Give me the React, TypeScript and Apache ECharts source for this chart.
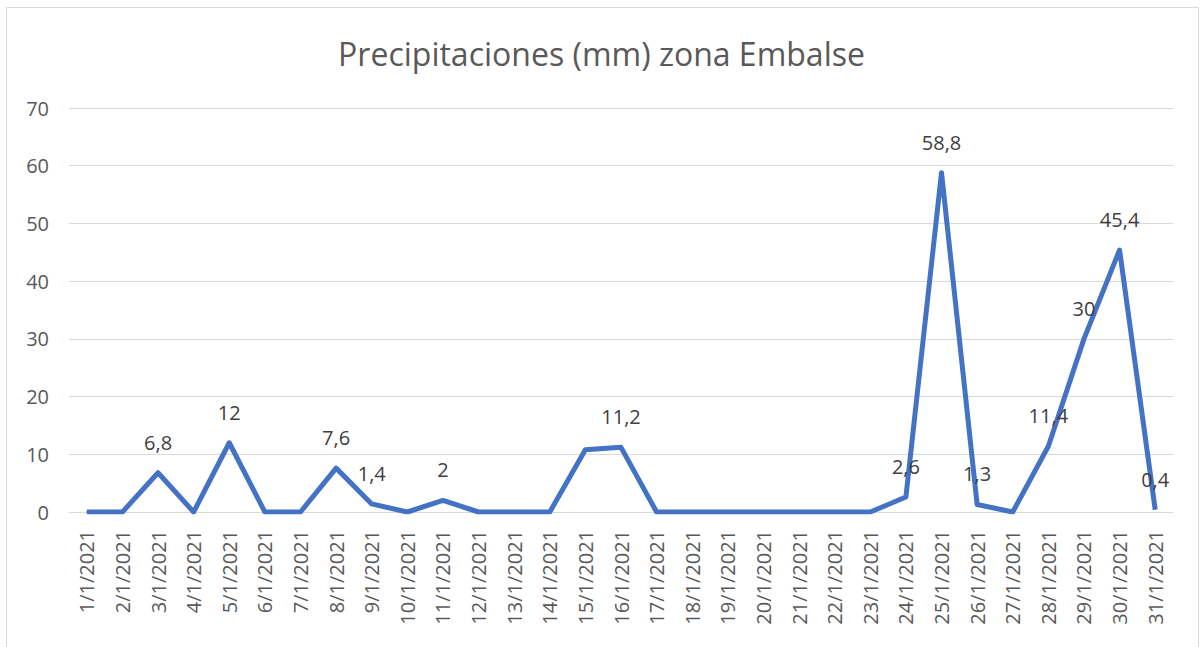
import React, { useEffect, useRef } from "react";
import * as echarts from "echarts";

const categories = [
  "1/1/2021", "2/1/2021", "3/1/2021", "4/1/2021", "5/1/2021", "6/1/2021", "7/1/2021", "8/1/2021",
  "9/1/2021", "10/1/2021", "11/1/2021", "12/1/2021", "13/1/2021", "14/1/2021", "15/1/2021", "16/1/2021",
  "17/1/2021", "18/1/2021", "19/1/2021", "20/1/2021", "21/1/2021", "22/1/2021", "23/1/2021", "24/1/2021",
  "25/1/2021", "26/1/2021", "27/1/2021", "28/1/2021", "29/1/2021", "30/1/2021", "31/1/2021",
];
const values = [
  0, 0, 6.8, 0, 12, 0, 0, 7.6, 1.4, 0, 2, 0, 0, 0, 10.8, 11.2,
  0, 0, 0, 0, 0, 0, 0, 2.6, 58.8, 1.3, 0, 11.4, 30, 45.4, 0.4,
];
// which points carry a data label
const labelled = [
  false, false, true, false, true, false, false, true, true, false, true, false, false, false, false, true,
  false, false, false, false, false, false, false, true, true, true, false, true, true, true, true,
];
const title = "Precipitaciones (mm) zona Embalse";

const FONT = "'Open Sans', 'Noto Sans', sans-serif";

export default function App() {
  const ref = useRef<HTMLDivElement>(null);
  useEffect(() => {
    if (!ref.current) return;
    const chart = echarts.init(ref.current, null, { renderer: "svg" });
    chart.setOption({
      animation: false,
      backgroundColor: "#ffffff",
      title: {
        text: title,
        left: "center",
        top: 32,
        textStyle: { fontFamily: FONT, fontSize: 32, fontWeight: "normal", color: "#595959" },
      },
      graphic: [
        {
          type: "rect",
          shape: { x: 6.5, y: 7.5, width: 1192, height: 650 },
          style: { fill: "none", stroke: "#d9d9d9", lineWidth: 1 },
          silent: true,
        },
      ],
      grid: { left: 69, right: 30, top: 108, bottom: 135, containLabel: false },
      xAxis: {
        type: "category",
        data: categories,
        boundaryGap: true,
        axisLine: { lineStyle: { color: "#d9d9d9", width: 1 } },
        axisTick: { show: false },
        axisLabel: {
          rotate: 90,
          interval: 0,
          margin: 18,
          fontFamily: FONT,
          fontSize: 20,
          color: "#595959",
        },
      },
      yAxis: {
        type: "value",
        min: 0,
        max: 70,
        interval: 10,
        axisLine: { show: false },
        axisTick: { show: false },
        splitLine: { lineStyle: { color: "#d9d9d9", width: 1 } },
        axisLabel: { margin: 20, fontFamily: FONT, fontSize: 20, color: "#595959" },
      },
      series: [
        {
          type: "line",
          data: values.map((v, i) => ({
            value: v,
            label: { show: labelled[i] },
          })),
          showSymbol: true,
          symbol: "circle",
          symbolSize: 1,
          lineStyle: { color: "#4472C4", width: 5, join: "round" },
          itemStyle: { color: "#4472C4" },
          label: {
            show: false,
            position: "top",
            distance: 20,
            fontFamily: FONT,
            fontSize: 20,
            color: "#404040",
            formatter: (p: any) => String(p.value).replace(".", ","),
          },
        },
      ],
    });
    return () => chart.dispose();
  }, []);
  return (
    <div
      ref={ref}
      style={{ position: "fixed", left: 0, top: 0, width: 1203, height: 647 }}
    />
  );
}
